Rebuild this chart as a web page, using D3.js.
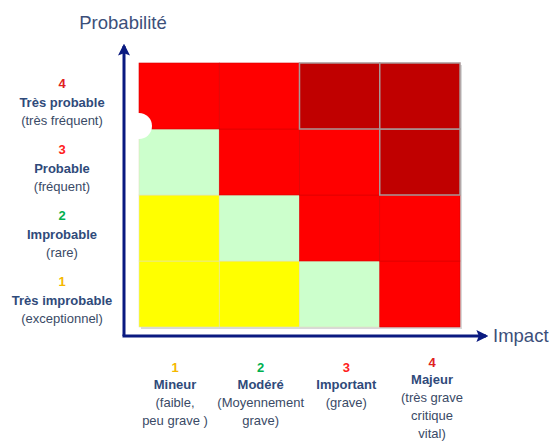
<!DOCTYPE html>
<html>
<head>
<meta charset="utf-8">
<script src="https://cdn.jsdelivr.net/npm/d3@7"></script>
<style>
  body { margin: 0; background: white; }
  text { font-family: "Liberation Sans", Arial, sans-serif; }
</style>
</head>
<body>
<main></main>
<script>
// probability levels (bottom to top) and impact levels (left to right)
let probLevels = ["1", "2", "3", "4"]
let impactLevels = ["1", "2", "3", "4"]

let probNames = ["Très improbable", "Improbable", "Probable", "Très probable"]
let probNotes = [["(exceptionnel)"], ["(rare)"], ["(fréquent)"], ["(très fréquent)"]]

let impactNames = ["Mineur", "Modéré", "Important", "Majeur"]
let impactNotes = [["(faible,", "peu grave )"], ["(Moyennement", "grave)"], ["(grave)"], ["(très grave", "critique", "vital)"]]

// risk class of each cell: rows = probability 1..4, columns = impact 1..4
let riskLevels = [
  ["faible", "faible", "moyen", "fort"],
  ["faible", "moyen", "fort", "fort"],
  ["moyen", "fort", "fort", "critique"],
  ["fort", "fort", "critique", "critique"]
]

let levelColors = ["#f5b800", "#00b050", "#ff2020", "#e02020"]

//set dimensions
const svgWidth = 550
const svgHeight = 442

let svg = d3.select("main")
    .append("svg")
    .attr("width", svgWidth)
    .attr("height", svgHeight)

//scales
let xScale = d3.scaleBand()
    .domain(impactLevels)
    .range([139, 460])

let yScale = d3.scaleBand()
    .domain(probLevels)
    .range([327, 63])

let xLabelScale = d3.scalePoint()
    .domain(impactLevels)
    .range([175, 432])

let color = d3.scaleOrdinal()
    .domain(["faible", "moyen", "fort", "critique"])
    .range(["#ffff00", "#ccffcc", "#ff0000", "#c00000"])

//cells
let cells = []
probLevels.forEach((p, i) => {
  impactLevels.forEach((c, j) => {
    cells.push({prob: p, impact: c, level: riskLevels[i][j]})
  })
})

// soft shadow behind the grid
svg.append("rect")
    .attr("x", xScale.range()[0] + 2)
    .attr("y", yScale.range()[1] + 2)
    .attr("width", xScale.range()[1] - xScale.range()[0])
    .attr("height", yScale.range()[0] - yScale.range()[1])
    .style("fill", "#d8d8d8")

svg.append("g")
    .selectAll("rect")
    .data(cells)
    .enter()
    .append("rect")
    .attr("x", d => xScale(d.impact))
    .attr("y", d => yScale(d.prob))
    .attr("width", xScale.bandwidth())
    .attr("height", yScale.bandwidth())
    .style("fill", d => color(d.level))
    .style("stroke", d => d.level == "critique" ? "#a89898" : (d.level == "fort" ? "#d80000" : "#e0e0c0"))
    .style("stroke-width", d => d.level == "critique" ? 1.5 : 0.6)

// critical cells drawn last so their grey border stays on top
svg.selectAll("rect")
    .filter(d => d && d.level == "critique")
    .raise()

//axes with arrows
let defs = svg.append("defs")
defs.append("marker")
    .attr("id", "arrow")
    .attr("viewBox", "0 0 10 10")
    .attr("refX", 8)
    .attr("refY", 5)
    .attr("markerWidth", 4)
    .attr("markerHeight", 4)
    .attr("orient", "auto")
    .append("path")
    .attr("d", "M0,0 L10,5 L0,10 L2,5 Z")
    .style("fill", "#0a1a80")

svg.append("line")
    .attr("x1", 124).attr("y1", 336)
    .attr("x2", 124).attr("y2", 46)
    .style("stroke", "#0a1a80")
    .style("stroke-width", 3)
    .attr("marker-end", "url(#arrow)")

svg.append("line")
    .attr("x1", 122.5).attr("y1", 336)
    .attr("x2", 486).attr("y2", 336)
    .style("stroke", "#0a1a80")
    .style("stroke-width", 3)
    .attr("marker-end", "url(#arrow)")

//axis titles
svg.append("text")
    .attr("x", 123)
    .attr("y", 29)
    .attr("text-anchor", "middle")
    .style("font-size", "18.5px")
    .style("fill", "#3c4f7a")
    .text("Probabilité")

svg.append("text")
    .attr("x", 493)
    .attr("y", 342)
    .style("font-size", "18.5px")
    .style("fill", "#3c4f7a")
    .text("Impact")

// white spot on the y axis
svg.append("circle")
    .attr("cx", 139)
    .attr("cy", 126)
    .attr("r", 13)
    .style("fill", "white")

//probability labels
let yLab = svg.append("g")
    .selectAll("g")
    .data(probLevels)
    .enter()
    .append("g")
    .attr("transform", d => `translate(62, ${yScale(d) + yScale.bandwidth() / 2})`)
    .attr("text-anchor", "middle")
    .style("font-size", "13px")

yLab.append("text")
    .attr("y", -8)
    .style("fill", (d, i) => levelColors[i])
    .style("font-weight", "bold")
    .text(d => d)

yLab.append("text")
    .attr("y", 11)
    .style("fill", "#2f4a7a")
    .style("font-weight", "bold")
    .text((d, i) => probNames[i])

yLab.each(function (d, i) {
  d3.select(this).selectAll("text.note")
      .data(probNotes[i])
      .enter()
      .append("text")
      .attr("class", "note")
      .attr("y", (n, k) => 29 + k * 17)
      .style("fill", "#3a4a66")
      .text(n => n)
})

//impact labels
let xLab = svg.append("g")
    .selectAll("g")
    .data(impactLevels)
    .enter()
    .append("g")
    .attr("transform", (d, i) => `translate(${xLabelScale(d)}, ${i == 3 ? 367 : 372})`)
    .attr("text-anchor", "middle")
    .style("font-size", "13px")

xLab.append("text")
    .style("fill", (d, i) => levelColors[i])
    .style("font-weight", "bold")
    .text(d => d)

xLab.append("text")
    .attr("y", 17)
    .style("fill", "#2f4a7a")
    .style("font-weight", "bold")
    .text((d, i) => impactNames[i])

xLab.each(function (d, i) {
  d3.select(this).selectAll("text.note")
      .data(impactNotes[i])
      .enter()
      .append("text")
      .attr("class", "note")
      .attr("y", (n, k) => 35 + k * 18)
      .style("fill", "#3a4a66")
      .text(n => n)
})
</script>
</body>
</html>
